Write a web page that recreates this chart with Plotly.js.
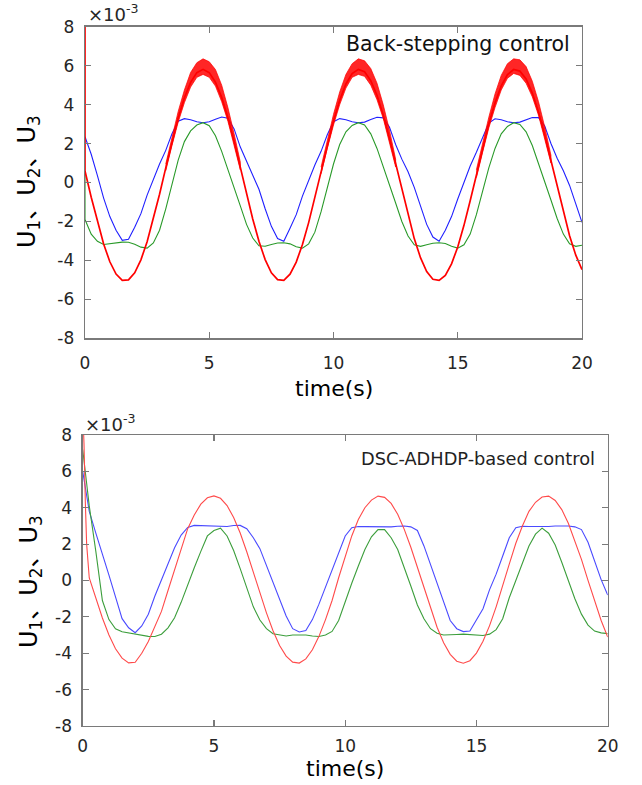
<!DOCTYPE html>
<html>
<head>
<meta charset="utf-8">
<script src="https://cdn.plot.ly/plotly-3.0.1.min.js"></script>
<style>html,body{margin:0;padding:0;background:#fff;}#chart{width:642px;height:785px;}</style>
</head>
<body>
<div id="chart"></div>
<script>
// ---- data (values in units of 1e-3) ----
const time = [0,0.25,0.5,0.75,1,1.25,1.5,1.75,2,2.25,2.5,2.75,3,3.25,3.5,3.75,4,4.25,4.5,4.75,5,5.25,5.5,5.75,6,6.25,6.5,6.75,7,7.25,7.5,7.75,8,8.25,8.5,8.75,9,9.25,9.5,9.75,10,10.25,10.5,10.75,11,11.25,11.5,11.75,12,12.25,12.5,12.75,13,13.25,13.5,13.75,14,14.25,14.5,14.75,15,15.25,15.5,15.75,16,16.25,16.5,16.75,17,17.25,17.5,17.75,18,18.25,18.5,18.75,19,19.25,19.5,19.75,20];

// Back-stepping control
const redTopStart = [0, 8.6];     // initial spike at t=0 (t, value)
const redTop = [0.59,-0.76,-2.04,-3.16,-4.07,-4.70,-5.02,-5.00,-4.64,-3.97,-3.04,-1.89,-0.60,0.75,2.08,3.31,4.35,5.14,5.64,5.81,5.64,5.15,4.37,3.33,2.11,0.78,-0.58,-1.87,-3.02,-3.96,-4.64,-4.99,-5.02,-4.71,-4.09,-3.18,-2.06,-0.78,0.58,1.91,3.15,4.22,5.06,5.59,5.81,5.69,5.23,4.48,3.47,2.27,0.95,-0.40,-1.71,-2.88,-3.86,-4.57,-4.97,-5.03,-4.77,-4.18,-3.31,-2.20,-0.94,0.40,1.74,3.00,4.09,4.96,5.54,5.80,5.72,5.32,4.59,3.61,2.43,1.13,-0.22,-1.54,-2.73,-3.73,-4.47];
const blueTop = [2.35,1.45,0.35,-0.8,-1.75,-2.45,-2.97,-2.92,-2.3,-1.6,-0.65,0.2,0.95,1.65,2.5,3.15,3.28,3.22,3.12,3.07,3.12,3.25,3.36,3.3,2.75,1.82,1.1,0.45,-0.35,-1.35,-2.25,-2.88,-3.02,-2.35,-1.65,-0.7,0.15,0.9,1.6,2.45,3.12,3.28,3.22,3.12,3.07,3.1,3.23,3.35,3.32,2.85,1.95,1.2,0.55,-0.25,-1.2,-2.15,-2.8,-3.02,-2.45,-1.75,-0.85,0.05,0.85,1.55,2.35,3.05,3.27,3.22,3.12,3.07,3.1,3.22,3.34,3.33,2.9,2.0,1.25,0.6,-0.15,-1.1,-2.05];
const greenTopStart = [0, 0.5];
const greenTop = [-1.9,-2.65,-3.02,-3.18,-3.15,-3.1,-3.06,-3.07,-3.17,-3.32,-3.37,-3.1,-2.45,-1.35,-0.05,1.15,2.1,2.65,2.95,3.07,2.92,2.4,1.6,0.7,-0.25,-1.2,-2.15,-2.85,-3.25,-3.27,-3.18,-3.11,-3.09,-3.15,-3.3,-3.37,-3.15,-2.55,-1.5,-0.25,0.95,1.95,2.6,2.93,3.07,2.95,2.5,1.75,0.85,-0.1,-1.05,-2.0,-2.75,-3.2,-3.28,-3.2,-3.12,-3.09,-3.13,-3.27,-3.37,-3.2,-2.65,-1.65,-0.45,0.75,1.75,2.5,2.88,3.07,2.98,2.6,1.9,1.0,0.05,-0.9,-1.85,-2.65,-3.15,-3.28,-3.22];

// chattering envelope of the red curve around its peaks
const chatT1 = [3.25,3.5,3.75,4,4.25,4.5,4.75,5,5.25,5.5,5.75,6,6.25];
const chatHi1 = [0.95,2.35,3.65,4.75,5.65,6.15,6.35,6.2,5.8,5.0,3.85,2.5,1.05];
const chatLo1 = [0.6,1.9,3.1,4.1,4.9,5.4,5.55,5.4,4.95,4.15,3.15,1.95,0.65];
const chatT2 = [9.5,9.75,10,10.25,10.5,10.75,11,11.25,11.5,11.75,12,12.25,12.5];
const chatHi2 = [0.8,2.2,3.5,4.65,5.55,6.1,6.35,6.25,5.85,5.1,4.0,2.7,1.2];
const chatLo2 = [0.45,1.75,2.95,4.0,4.85,5.4,5.55,5.45,5.0,4.25,3.3,2.1,0.8];
const chatT3 = [15.75,16,16.25,16.5,16.75,17,17.25,17.5,17.75,18,18.25,18.5,18.75];
const chatHi3 = [0.65,2.05,3.35,4.55,5.5,6.1,6.35,6.3,5.95,5.2,4.15,2.85,1.4];
const chatLo3 = [0.25,1.55,2.8,3.85,4.75,5.35,5.6,5.5,5.1,4.4,3.45,2.3,1.0];

// DSC-ADHDP-based control
const redBotTime = [0,0.05,0.1,0.15,0.25,0.5,0.75,1,1.25,1.5,1.75,2,2.25,2.5,2.75,3,3.25,3.5,3.75,4,4.25,4.5,4.75,5,5.25,5.5,5.75,6,6.25,6.5,6.75,7,7.25,7.5,7.75,8,8.25,8.5,8.75,9,9.25,9.5,9.75,10,10.25,10.5,10.75,11,11.25,11.5,11.75,12,12.25,12.5,12.75,13,13.25,13.5,13.75,14,14.25,14.5,14.75,15,15.25,15.5,15.75,16,16.25,16.5,16.75,17,17.25,17.5,17.75,18,18.25,18.5,18.75,19,19.25,19.5,19.75,20];
const redBot = [9.5,7.5,4.3,2.0,0.14,-0.99,-2.06,-3.0,-3.75,-4.27,-4.53,-4.50,-4.0,-3.35,-2.5,-1.7,-0.55,0.6,1.75,2.85,3.6,4.2,4.55,4.65,4.52,4.12,3.46,2.61,1.58,0.46,-0.68,-1.78,-2.76,-3.57,-4.16,-4.49,-4.54,-4.31,-3.81,-3.07,-2.15,-1.10,0.15,1.35,2.45,3.35,4.0,4.42,4.64,4.57,4.24,3.64,2.81,1.83,0.72,-0.43,-1.55,-2.57,-3.42,-4.06,-4.44,-4.55,-4.41,-3.99,-3.34,-2.48,-1.45,-0.33,0.9,2.05,3.0,3.8,4.3,4.59,4.64,4.40,3.90,3.15,2.21,1.16,0.01,-1.12,-2.20,-3.11];
const blueBot = [6.0,3.8,2.6,1.5,0.3,-0.9,-2.1,-2.6,-2.87,-2.5,-1.85,-0.85,0.05,0.95,1.8,2.5,2.92,3.03,3.02,2.97,2.96,2.95,2.97,3.02,3.03,2.85,2.35,1.75,0.8,-0.15,-1.1,-1.95,-2.65,-2.83,-2.75,-2.15,-1.3,-0.35,0.6,1.6,2.45,2.9,2.97,2.96,2.95,2.96,2.93,2.95,2.98,3.0,2.95,2.75,1.9,0.85,-0.2,-1.2,-2.2,-2.65,-2.81,-2.78,-2.2,-1.55,-0.5,0.35,1.35,2.35,2.9,2.98,2.97,2.96,2.95,2.97,3.0,3.02,3.0,2.95,2.8,2.1,1.05,0.05,-0.8];
const greenBot = [7.2,4.1,1.6,-1.1,-2.15,-2.65,-2.82,-2.88,-2.95,-3.02,-3.07,-3.08,-2.95,-2.6,-2.05,-1.2,-0.2,0.7,1.6,2.45,2.75,2.88,2.45,1.65,0.65,-0.45,-1.45,-2.17,-2.65,-2.93,-3.0,-3.05,-3.0,-2.98,-3.0,-3.05,-3.08,-3.0,-2.8,-2.2,-1.15,-0.15,0.8,1.7,2.4,2.8,2.8,2.35,1.7,0.75,-0.3,-1.35,-2.1,-2.65,-2.9,-3.0,-3.0,-2.97,-2.95,-2.97,-3.0,-3.02,-2.95,-2.7,-2.1,-0.95,0.0,1.0,1.9,2.55,2.88,2.6,1.95,1.0,0.0,-1.0,-1.85,-2.45,-2.78,-2.88,-2.92];

const xTicks = [0,5,10,15,20];
const xTickText = ['0','5','10','15','20'];
const yTicks = [-8,-6,-4,-2,0,2,4,6,8];
const yTickText = ['-8','-6','-4','-2','0','2','4','6','8'];
const panelLabels = ['Back-stepping control','DSC-ADHDP-based control'];
const xTitle = 'time(s)';
const yTitle = 'U<sub>1</sub>、U<sub>2</sub>、U<sub>3</sub>';
const expLabel = '×10<sup>-3</sup>';

// ---- traces ----
const W = 642, H = 785;
const FONT = 'DejaVu Sans, Liberation Sans, Arial, sans-serif';
function band(t, hi, lo, xa, ya){
  return {x: t.concat(t.slice().reverse()), y: hi.concat(lo.slice().reverse()),
    xaxis: xa, yaxis: ya, type:'scatter', mode:'lines', fill:'toself',
    fillcolor:'rgba(255,0,0,0.85)', line:{color:'rgba(255,0,0,0.9)', width:0.8}, hoverinfo:'skip'};
}
const traces = [
  {x: time, y: blueTop, xaxis:'x', yaxis:'y', mode:'lines', line:{color:'#2020ff', width:1.1}},
  {x: [greenTopStart[0]].concat(time), y: [greenTopStart[1]].concat(greenTop), xaxis:'x', yaxis:'y', mode:'lines', line:{color:'#2a9a2a', width:1.1}},
  {x: [redTopStart[0]].concat(time), y: [redTopStart[1]].concat(redTop), xaxis:'x', yaxis:'y', mode:'lines', line:{color:'#ff0000', width:1.7}},
  band(chatT1, chatHi1, chatLo1, 'x', 'y'),
  band(chatT2, chatHi2, chatLo2, 'x', 'y'),
  band(chatT3, chatHi3, chatLo3, 'x', 'y'),
  {x: time, y: blueBot, xaxis:'x2', yaxis:'y2', mode:'lines', line:{color:'#4a4aff', width:1.1}},
  {x: time, y: greenBot, xaxis:'x2', yaxis:'y2', mode:'lines', line:{color:'#3c9e3c', width:1.1}},
  {x: redBotTime, y: redBot, xaxis:'x2', yaxis:'y2', mode:'lines', line:{color:'#ff4a4a', width:1.1}}
];

const axisCommon = {
  showline:true, mirror:'ticks', linecolor:'#7a7a7a', linewidth:1.3,
  ticks:'inside', ticklen:6, tickcolor:'#7a7a7a', tickwidth:1.1,
  showgrid:false, zeroline:false,
  tickfont:{family:FONT, size:17, color:'#262626'}
};
const px = v => v / W, py = v => 1 - v / H;

const layout = {
  width: W, height: H, margin:{l:0,r:0,t:0,b:0},
  paper_bgcolor:'#fff', plot_bgcolor:'#fff', showlegend:false,
  xaxis: Object.assign({}, axisCommon, {domain:[px(85), px(582)], range:[0,20], tickvals:xTicks, ticktext:xTickText, anchor:'y', ticklabelstandoff:9}),
  yaxis: Object.assign({}, axisCommon, {domain:[py(338.3), py(26.7)], range:[-8,8], tickvals:yTicks, ticktext:yTickText, anchor:'x', ticklabelstandoff:6}),
  xaxis2: Object.assign({}, axisCommon, {domain:[px(82.7), px(607.7)], range:[0,20], tickvals:xTicks, ticktext:xTickText, anchor:'y2', ticklabelstandoff:4}),
  yaxis2: Object.assign({}, axisCommon, {domain:[py(726), py(435)], range:[-8,8], tickvals:yTicks, ticktext:yTickText, anchor:'x2', ticklabelstandoff:6}),
  annotations: [
    {text: panelLabels[0], xref:'paper', yref:'paper', x:px(458), y:py(44), xanchor:'center', yanchor:'middle', showarrow:false, font:{family:FONT, size:20.5, color:'#111'}},
    {text: panelLabels[1], xref:'paper', yref:'paper', x:px(478), y:py(458), xanchor:'center', yanchor:'middle', showarrow:false, font:{family:FONT, size:17.8, color:'#222'}},
    {text: xTitle, xref:'paper', yref:'paper', x:px(333.5), y:py(388), xanchor:'center', yanchor:'middle', showarrow:false, font:{family:FONT, size:22, color:'#000'}},
    {text: xTitle, xref:'paper', yref:'paper', x:px(345), y:py(768), xanchor:'center', yanchor:'middle', showarrow:false, font:{family:FONT, size:22, color:'#000'}},
    {text: yTitle, xref:'paper', yref:'paper', x:px(29), y:py(182), xanchor:'center', yanchor:'middle', textangle:-90, showarrow:false, font:{family:'DejaVu Sans, Noto Sans CJK SC, sans-serif', size:24, color:'#000'}},
    {text: yTitle, xref:'paper', yref:'paper', x:px(30), y:py(582), xanchor:'center', yanchor:'middle', textangle:-90, showarrow:false, font:{family:'DejaVu Sans, Noto Sans CJK SC, sans-serif', size:24, color:'#000'}},
    {text: expLabel, xref:'paper', yref:'paper', x:px(86), y:py(13), xanchor:'left', yanchor:'middle', showarrow:false, font:{family:FONT, size:18, color:'#262626'}},
    {text: expLabel, xref:'paper', yref:'paper', x:px(83), y:py(423), xanchor:'left', yanchor:'middle', showarrow:false, font:{family:FONT, size:18, color:'#262626'}}
  ]
};

Plotly.newPlot('chart', traces, layout, {displayModeBar:false, staticPlot:true});
</script>
</body>
</html>
